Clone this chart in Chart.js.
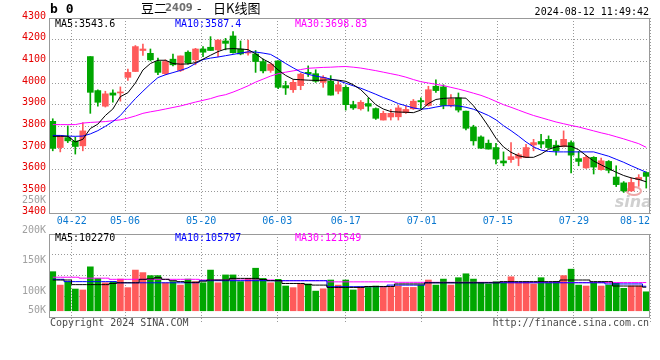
<!DOCTYPE html>
<html><head><meta charset="utf-8">
<script src="https://cdn.jsdelivr.net/npm/chart.js@4.4.1/dist/chart.umd.min.js"></script>
<style>
html,body{margin:0;padding:0;background:#fff;}
#wrap{position:relative;width:660px;height:360px;overflow:hidden;}
canvas{position:absolute;left:0;top:0;}
</style></head><body>
<div id="wrap"><canvas id="k" width="660" height="360"></canvas><canvas id="v" width="660" height="360"></canvas></div>
<script>
// ---- data ----
const opens = [3823,3702,3748,3732,3710,4122,3965,3893,3954,3954,4026,4053,4150,4137,4099,4043,4110,4058,4142,4107,4157,4165,4153,4194,4217,4156,4138,4134,4099,4058,4102,3988,3969,3988,4049,4043,4003,4008,3962,3980,3900,3881,3905,3882,3829,3843,3844,3863,3881,3919,3896,3985,3982,3896,3931,3870,3797,3751,3722,3702,3640,3646,3653,3656,3714,3730,3740,3713,3707,3725,3651,3608,3657,3600,3638,3566,3539,3502,3554,3587];
const highs = [3835,3757,3802,3750,3817,4122,3969,3962,3969,3982,4064,4173,4180,4157,4115,4107,4134,4125,4148,4160,4168,4214,4200,4206,4237,4194,4198,4150,4110,4092,4102,4008,4015,4046,4079,4061,4034,4034,4008,3988,3916,3919,3931,3885,3870,3878,3896,3893,3924,3931,3985,4015,3992,3947,3954,3870,3805,3756,3737,3722,3682,3725,3676,3717,3740,3763,3756,3733,3779,3733,3684,3666,3660,3654,3642,3618,3545,3562,3577,3590];
const lows = [3687,3682,3725,3672,3687,3860,3893,3889,3911,3916,4012,4053,4127,4102,4038,4038,4079,4053,4087,4084,4122,4150,4122,4153,4138,4130,4128,4049,4046,4049,3974,3947,3957,3969,4030,4003,3980,3944,3950,3875,3878,3875,3870,3832,3829,3829,3829,3860,3878,3881,3893,3957,3881,3890,3866,3783,3713,3698,3695,3626,3618,3634,3618,3656,3687,3702,3698,3667,3705,3585,3618,3606,3580,3598,3585,3522,3495,3500,3523,3515];
const closes = [3698,3756,3733,3707,3779,3957,3911,3950,3944,3958,4049,4168,4157,4107,4049,4099,4084,4125,4092,4157,4142,4150,4198,4183,4140,4134,4142,4099,4056,4087,3980,3977,4003,4041,4043,4008,4026,3944,3992,3900,3885,3911,3893,3837,3860,3860,3885,3878,3916,3913,3969,3965,3896,3927,3875,3791,3733,3699,3695,3649,3631,3660,3669,3702,3725,3718,3702,3687,3740,3667,3638,3657,3612,3641,3597,3531,3502,3541,3564,3569];
const ma5 = [3754,3754,3754,3728,3740,3790,3810,3850,3880,3937,3955,4000,4060,4090,4105,4105,4090,4087,4088,4094,4110,4128,4145,4157,4159,4157,4154,4135,4110,4092,4060,4035,4017,4015,4013,4012,4013,4015,4013,4008,3992,3969,3935,3900,3880,3868,3866,3865,3863,3875,3905,3924,3929,3931,3931,3930,3895,3850,3800,3745,3705,3680,3664,3657,3657,3672,3694,3705,3709,3708,3692,3665,3640,3622,3605,3588,3573,3562,3555,3544];
const ma10 = [3758,3758,3755,3754,3755,3765,3780,3800,3822,3850,3890,3928,3962,3995,4025,4038,4048,4058,4070,4090,4108,4115,4120,4126,4132,4138,4144,4143,4138,4132,4112,4090,4070,4051,4040,4032,4026,4018,4011,3999,3987,3976,3962,3948,3933,3920,3905,3895,3885,3879,3882,3889,3895,3895,3894,3888,3879,3865,3850,3830,3803,3780,3755,3728,3705,3690,3684,3682,3682,3682,3682,3682,3682,3672,3662,3648,3634,3618,3603,3588];
const ma30 = [3808,3808,3808,3808,3815,3818,3820,3822,3826,3830,3838,3848,3860,3867,3873,3880,3887,3894,3903,3912,3920,3928,3939,3946,3958,3972,3987,4004,4018,4032,4043,4050,4056,4062,4068,4070,4072,4073,4075,4076,4073,4069,4063,4057,4050,4043,4036,4027,4016,4006,4000,3994,3988,3980,3972,3963,3953,3943,3930,3915,3900,3888,3875,3862,3850,3840,3830,3820,3812,3804,3797,3788,3779,3770,3762,3752,3742,3731,3720,3703];
const volume = [169000,111000,126000,94000,90000,190000,140000,121000,126000,137000,100000,176000,165000,152000,152000,121000,126000,111000,137000,126000,121000,176000,121000,155000,155000,126000,140000,184000,140000,121000,136000,107000,100000,116000,116000,85000,95000,133000,111000,133000,90000,104000,101000,107000,101000,101000,107000,101000,101000,111000,133000,111000,137000,111000,143000,160000,137000,119000,116000,126000,121000,147000,119000,119000,116000,143000,119000,126000,152000,180000,111000,107000,119000,107000,111000,119000,97000,107000,107000,82000];
const vma5 = [133000,133000,133000,113000,113000,113000,113000,113000,118000,121000,121000,121000,136000,138000,143000,136000,130000,126000,123000,123000,128000,133000,133000,133000,140000,140000,140000,140000,135000,130000,130000,118000,118000,118000,113000,111000,111000,101000,101000,101000,101000,101000,105000,105000,105000,105000,116000,116000,116000,116000,121000,121000,121000,121000,121000,121000,121000,121000,121000,121000,126000,126000,126000,126000,126000,126000,126000,126000,133000,133000,133000,133000,126000,126000,126000,107000,107000,107000,107000,102000];
const vma10 = [136000,136000,126000,126000,126000,126000,126000,126000,126000,121000,121000,121000,121000,121000,121000,121000,121000,121000,121000,121000,130000,130000,130000,130000,130000,130000,130000,130000,130000,130000,130000,130000,130000,130000,130000,130000,130000,104000,104000,104000,104000,104000,104000,104000,104000,111000,111000,111000,111000,111000,121000,121000,121000,121000,121000,121000,121000,121000,121000,121000,121000,121000,121000,121000,121000,121000,121000,121000,121000,121000,121000,121000,121000,121000,116000,116000,116000,116000,116000,106000];
const vma30 = [145000,145000,145000,145000,141000,141000,141000,141000,136000,136000,136000,136000,136000,136000,136000,136000,136000,136000,136000,136000,133000,133000,133000,133000,133000,133000,133000,133000,133000,133000,130000,130000,130000,130000,130000,130000,130000,125000,125000,125000,125000,125000,125000,125000,125000,125000,123000,123000,123000,123000,123000,123000,123000,123000,123000,123000,123000,123000,123000,123000,123000,122000,122000,122000,122000,122000,122000,122000,122000,122000,122000,122000,122000,122000,122000,122000,122000,122000,122000,122000];
const tickDates = ['04-22','05-06','05-20','06-03','06-17','07-01','07-15','07-29','08-12'];
const tickDay = [3,10,20,30,39,49,59,69,79];   // trading-day index of each date label
const priceTicks = [3400,3500,3600,3700,3800,3900,4000,4100,4200,4300];
const volTicks = [250000,200000,150000,100000,50000];
const priceLabels = {ma5:'MA5:3543.6', ma10:'MA10:3587.4', ma30:'MA30:3698.83'};
const volLabels = {ma5:'MA5:102270', ma10:'MA10:105797', ma30:'MA30:121549'};

// ---- styling ----
const N = closes.length;
const RED = '#ff5a5a', GREEN = '#00a600';
const colors = closes.map((c,i) => c >= opens[i] ? RED : GREEN);
const MONO = '"DejaVu Sans Mono", monospace';
const GRID = '#999999', FRAME = '#999999';
const X = i => i + 0.5;
// the site spaces its date grid over N-1 steps across the same width
const tickPos = tickDay.map(d => d * N / (N - 1));
const pts = arr => arr.map((v,i) => ({x: X(i), y: v}));
const lineDs = (arr, color, extra) => Object.assign({type:'line', data: pts(arr), borderColor: color, borderWidth: 1, pointRadius: 0, tension: 0, fill: false, order: 0}, extra || {});

// dotted grid, positioned through the chart's scales; painted behind what is already drawn
function drawDotGrid(chart, xVals, yVals, below) {
  const ctx = chart.ctx, a = chart.chartArea, sx = chart.scales.x, sy = chart.scales.y;
  ctx.save();
  ctx.globalCompositeOperation = 'destination-over';
  ctx.fillStyle = GRID;
  xVals.forEach(v => {
    const px = Math.round(sx.getPixelForValue(v) - 0.5);
    for (let y = Math.round(a.top); y <= Math.round(a.bottom) + below; y += 3) ctx.fillRect(px, y, 1, 1);
  });
  yVals.forEach(v => {
    const py = Math.round(sy.getPixelForValue(v) - 0.5);
    for (let x = Math.round(a.left); x <= Math.round(a.right); x += 3) ctx.fillRect(x, py, 1, 1);
  });
  ctx.restore();
}

function drawFrame(chart) {
  const {ctx, chartArea: a} = chart;
  ctx.save();
  ctx.strokeStyle = FRAME; ctx.lineWidth = 1;
  ctx.strokeRect(a.left + 0.5, a.top + 0.5, a.right - a.left - 1, a.bottom - a.top);
  ctx.restore();
}

const xAxis = (showLabels) => ({
  type: 'linear', min: 0, max: N, offset: false,
  afterBuildTicks(s) { s.ticks = tickPos.map(v => ({value: v})); },
  ticks: {
    display: showLabels, autoSkip: false, maxRotation: 0, minRotation: 0,
    color: '#0a78d0', font: {family: MONO, size: 10}, padding: 2,
    callback(v, k) {
      const t = tickDates[k];
      return k === tickDates.length - 1 ? t + ' '.repeat(t.length) : t;
    }
  },
  grid: {display: false, offset: false, drawTicks: false},
  border: {display: false},
  afterFit(s) { s.height = showLabels ? 14 : 3; s.paddingLeft = 0; s.paddingRight = 0; }
});

// ---- price chart ----
new Chart(document.getElementById('k'), {
  type: 'bar',
  data: {datasets: [
    lineDs(ma5, '#000000'),
    lineDs(ma10, '#0000ff'),
    lineDs(ma30, '#ff00ff'),
    {type: 'bar', data: opens.map((o,i) => ({x: X(i), y: [o, closes[i]]})), backgroundColor: colors, barThickness: 6, minBarLength: 1, grouped: false, order: 1},
    {type: 'bar', data: lows.map((l,i) => ({x: X(i), y: [l, highs[i]]})), backgroundColor: colors, barThickness: 1, grouped: false, order: 2}
  ]},
  options: {
    responsive: false, animation: false, devicePixelRatio: 1,
    layout: {padding: {top: 18, left: 0, right: 10, bottom: 133}},
    plugins: {legend: {display: false}, tooltip: {enabled: false}},
    scales: {
      x: xAxis(true),
      y: {
        type: 'linear', min: priceTicks[0], max: priceTicks[priceTicks.length - 1], beginAtZero: false,
        afterBuildTicks(s) { s.ticks = priceTicks.map(v => ({value: v})); },
        ticks: {color: '#e60000', font: {family: MONO, size: 10}, padding: 3, labelOffset: -2, callback: v => String(v)},
        grid: {display: false, drawTicks: false},
        border: {display: false},
        afterFit(s) { s.width = 49; s.paddingTop = 0; s.paddingBottom = 0; }
      }
    }
  },
  plugins: [{
    id: 'texts',
    beforeDatasetsDraw(chart) {
      const {ctx, chartArea: a} = chart;
      ctx.save();
      ctx.font = 'italic bold 16px "DejaVu Sans"';
      ctx.fillStyle = '#d0d0d0'; ctx.textBaseline = 'alphabetic'; ctx.textAlign = 'right';
      ctx.fillText('sina', a.right + 2, a.bottom - 6);
      ctx.strokeStyle = '#eea8a8'; ctx.lineWidth = 2;
      ctx.beginPath(); ctx.ellipse(a.right - 16, a.bottom - 22, 7, 4, 0, 0, Math.PI * 2); ctx.stroke();
      ctx.restore();
    },
    afterDatasetsDraw(chart) {
      drawDotGrid(chart, tickPos, priceTicks, 0);
      drawFrame(chart);
    },
    afterDraw(chart) {
      const {ctx, chartArea: a} = chart;
      ctx.save();
      ctx.textBaseline = 'middle';
      ctx.font = '10px ' + MONO;
      ctx.textAlign = 'left';
      ctx.fillStyle = '#000000'; ctx.fillText(priceLabels.ma5, a.left + 6, a.top + 6);
      ctx.fillStyle = '#0000ff'; ctx.fillText(priceLabels.ma10, a.left + 126, a.top + 6);
      ctx.fillStyle = '#ff00ff'; ctx.fillText(priceLabels.ma30, a.left + 246, a.top + 6);
      ctx.fillStyle = '#000000'; ctx.textAlign = 'right';
      ctx.fillText('2024-08-12 11:49:42', a.right - 1, 12);
      ctx.textAlign = 'left';
      ctx.font = 'bold 13px ' + MONO;
      ctx.fillText('b 0', a.left + 1, 10);
      ctx.font = '13px "Noto Sans CJK SC"';
      ctx.fillText('豆二', 141, 8);
      ctx.font = 'bold 10px "DejaVu Sans"';
      ctx.fillStyle = '#707070';
      ctx.fillText('2409', 165, 8);
      ctx.fillStyle = '#000000';
      ctx.font = '13px "Noto Sans CJK SC"';
      ctx.fillText('-', 197, 8);
      ctx.fillText('日K线图', 213, 8);
      ctx.restore();
    }
  }]
});

// ---- volume chart ----
new Chart(document.getElementById('v'), {
  type: 'bar',
  data: {datasets: [
    lineDs(vma5, '#000000', {stepped: 'middle'}),
    lineDs(vma10, '#0000ff', {stepped: 'middle'}),
    lineDs(vma30, '#ff00ff', {stepped: 'middle'}),
    {type: 'bar', data: volume.map((v,i) => ({x: X(i), y: v})), backgroundColor: colors, barThickness: 6, grouped: false, order: 1}
  ]},
  options: {
    responsive: false, animation: false, devicePixelRatio: 1,
    layout: {padding: {top: 234, left: 0, right: 10, bottom: 40}},
    plugins: {legend: {display: false}, tooltip: {enabled: false}},
    scales: {
      x: xAxis(false),
      y: {
        type: 'linear', min: -27000, max: 332000,
        ticks: {display: false},
        grid: {display: false, drawTicks: false},
        border: {display: false},
        afterFit(s) { s.width = 49; s.paddingTop = 0; s.paddingBottom = 0; }
      },
      yl: {type: 'linear', display: false, min: 57100, max: 194500}
    }
  },
  plugins: [{
    id: 'vtexts',
    afterDatasetsDraw(chart) {
      const s = chart.scales.y, q = (s.max - s.min) / 4;
      drawDotGrid(chart, tickPos, [1, 2, 3].map(k => s.min + k * q), 4);
      drawFrame(chart);
    },
    afterDraw(chart) {
      const {ctx, chartArea: a, scales} = chart;
      ctx.save();
      ctx.textBaseline = 'middle';
      ctx.font = '10px ' + MONO;
      ctx.textAlign = 'right';
      ctx.fillStyle = '#a0a0a0';
      const base = scales.y.getPixelForValue(0);
      volTicks.forEach(v => {
        const y = Math.min(scales.yl.getPixelForValue(v), base);
        ctx.fillText((v / 1000) + 'K', a.left - 3, y);
      });
      ctx.textAlign = 'left';
      ctx.fillStyle = '#000000'; ctx.fillText(volLabels.ma5, a.left + 6, a.top + 4);
      ctx.fillStyle = '#0000ff'; ctx.fillText(volLabels.ma10, a.left + 126, a.top + 4);
      ctx.fillStyle = '#ff00ff'; ctx.fillText(volLabels.ma30, a.left + 246, a.top + 4);
      ctx.fillStyle = '#4a4a4a';
      ctx.fillText('Copyright 2024 SINA.COM', a.left + 1, a.bottom + 6);
      ctx.textAlign = 'right';
      ctx.fillText('http://finance.sina.com.cn', a.right - 1, a.bottom + 6);
      ctx.restore();
    }
  }]
});
</script>
</body></html>
